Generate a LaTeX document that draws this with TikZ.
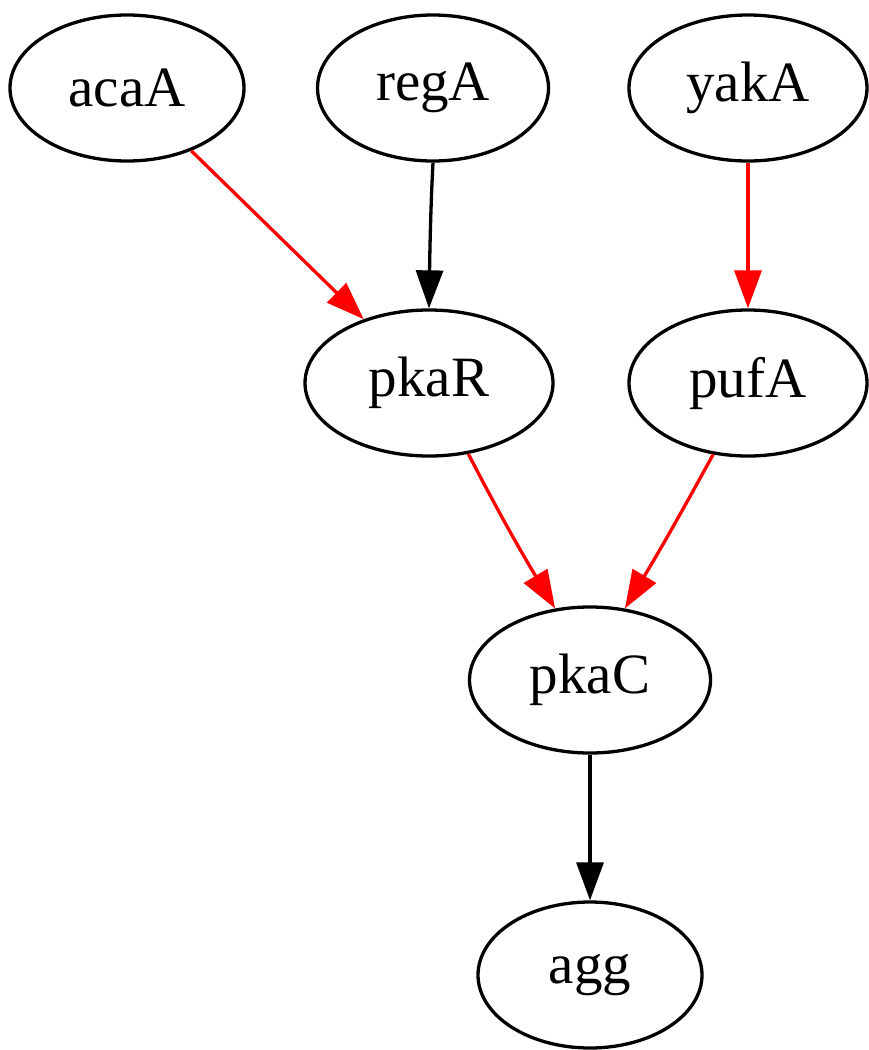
\documentclass[tikz,border=0pt]{standalone}
\usepackage{fontspec}
\setmainfont{Liberation Serif}
\usetikzlibrary{shapes.geometric,arrows.meta}
\begin{document}
\begin{tikzpicture}[x=1pt,y=-1pt,
 nd/.style={ellipse, draw, line width=3.3pt, minimum width=234pt, minimum height=146pt, inner sep=0pt, font=\fontsize{57}{68}\selectfont},
 ed/.style={line width=3.3pt, -{Triangle[length=38pt,width=27pt]}},
 rededge/.style={ed, draw=red, fill=red}]
\useasboundingbox (0,0) rectangle (868,1050);
\node[nd] (acaA) at (127,88) {acaA};
\node[nd, minimum width=231pt] (regA) at (433,88) {regA};
\node[nd, minimum width=238pt] (yakA) at (748,88) {yakA};
\node[nd, minimum width=248pt] (pkaR) at (429,383) {pkaR};
\node[nd, minimum width=238pt] (pufA) at (748,383) {pufA};
\node[nd, minimum width=241pt] (pkaC) at (590,680) {pkaC};
\node[nd, minimum width=224pt] (agg) at (590,975) {agg};
\draw[rededge] (acaA) -- (pkaR);
\draw[ed] (regA.south) .. controls (431,200) and (430,240) .. (pkaR.north);
\draw[rededge] (yakA) -- (pufA);
\draw[rededge] (pkaR.-61) .. controls (500,515) and (520,550) .. (pkaC.116);
\draw[rededge] (pufA.-116) .. controls (680,515) and (660,550) .. (pkaC.64);
\draw[ed] (pkaC) -- (agg);
\end{tikzpicture}
\end{document}
